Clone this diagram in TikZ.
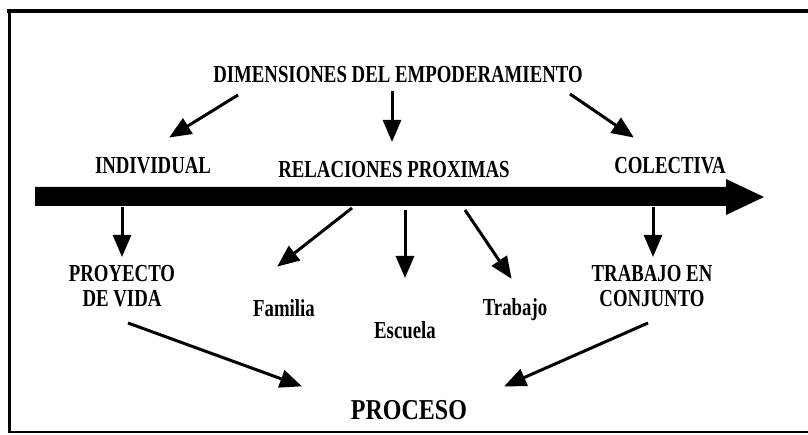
\documentclass[tikz,border=0pt]{standalone}
\usepackage{fontspec}
\usepackage{graphicx}
\setmainfont{Liberation Serif}
\usetikzlibrary{arrows.meta}
\newcommand\tallt[1]{\scalebox{1}[1.3]{#1}}
\begin{document}
\begin{tikzpicture}[x=1pt,y=-1pt,
  lbl/.style={font=\bfseries\fontsize{18.8}{19}\selectfont, inner sep=0pt},
  big/.style={font=\bfseries\fontsize{24}{28}\selectfont, inner sep=0pt},
  arr/.style={line width=3pt, -{Triangle[length=22pt,width=18pt]}, shorten >=-1pt}]
\useasboundingbox (0,0) rectangle (808,435);
% frame
\draw[line width=4pt] (7,11) -- (808,11);
\draw[line width=3pt] (9,9) -- (9,432);
\draw[line width=1.2pt] (8,432) -- (808,432);
% texts
\node[lbl] (dim) at (398,75) {\tallt{DIMENSIONES DEL EMPODERAMIENTO}};
\node[lbl] (ind) at (153,166) {\tallt{INDIVIDUAL}};
\node[lbl] (rel) at (394,170) {\tallt{RELACIONES PROXIMAS}};
\node[lbl] (col) at (670,166) {\tallt{COLECTIVA}};
\node[lbl] (pro) at (122,289) {\tallt{\begin{tabular}{@{}c@{}}PROYECTO\\DE VIDA\end{tabular}}};
\node[lbl] (fam) at (284,308) {\tallt{Familia}};
\node[lbl] (esc) at (405,330) {\tallt{Escuela}};
\node[lbl] (tra) at (515,310) {\tallt{Trabajo}};
\node[lbl] (tec) at (652,289) {\tallt{\begin{tabular}{@{}c@{}}TRABAJO EN\\CONJUNTO\end{tabular}}};
\node[big] (proc) at (409,410) {\scalebox{1}[1.2]{PROCESO}};
% big arrow
\fill (35,187) -- (726,187) -- (726,179) -- (764,197) -- (726,215) -- (726,206) -- (35,206) -- cycle;
% coordinates
\coordinate (d1) at (238,95);
\coordinate (i1) at (170,137);
\coordinate (d2) at (392,91);
\coordinate (r2) at (392,141);
\coordinate (d3) at (570,94);
\coordinate (c3) at (633,137);
\coordinate (b1) at (122,207);
\coordinate (p1) at (122,256);
\coordinate (b2) at (352,208);
\coordinate (f2) at (278,266);
\coordinate (b3) at (405,210);
\coordinate (e3) at (405,277);
\coordinate (b4) at (465,210);
\coordinate (t4) at (511,278);
\coordinate (b5) at (653,207);
\coordinate (t5) at (653,256);
\coordinate (s1) at (128,323);
\coordinate (q1) at (301,386);
\coordinate (s2) at (648,323);
\coordinate (q2) at (505,386);
% arrows
\draw[arr] (d1) -- (i1);
\draw[arr] (d2) -- (r2);
\draw[arr] (d3) -- (c3);
\draw[arr] (b1) -- (p1);
\draw[arr] (b2) -- (f2);
\draw[arr] (b3) -- (e3);
\draw[arr] (b4) -- (t4);
\draw[arr] (b5) -- (t5);
\draw[arr] (s1) -- (q1);
\draw[arr] (s2) -- (q2);
\end{tikzpicture}
\end{document}
